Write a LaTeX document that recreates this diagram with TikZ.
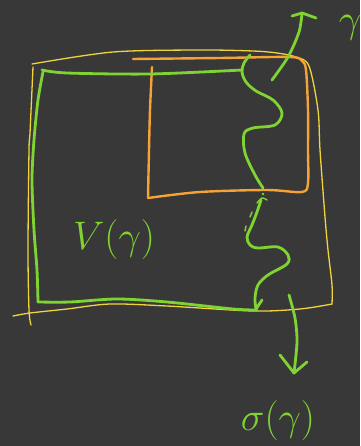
\documentclass[tikz,border=0pt]{standalone}
\begin{document}
\definecolor{board}{RGB}{56,56,56}
\definecolor{cgreen}{RGB}{128,212,50}
\definecolor{corange}{RGB}{245,162,55}
\definecolor{cyellow}{RGB}{240,212,60}
\newcommand{\chalk}[1]{\scalebox{1.6}{\Huge $#1$}}
\begin{tikzpicture}[x=1pt,y=-1pt,line cap=round,line join=round,
  greenline/.style={draw=cgreen,line width=2.8pt},
  thingreen/.style={draw=cgreen,line width=1.4pt},
  orangeline/.style={draw=corange,line width=2.4pt},
  yellowline/.style={draw=cyellow,line width=1.3pt},
  chalktext/.style={text=cgreen,inner sep=0pt}]
\fill[board] (0,0) rectangle (360,446);
\useasboundingbox (0,0) rectangle (360,446);
\clip (0,0) rectangle (360,446);
% yellow outer frame
\draw[yellowline] plot[smooth,tension=0.5] coordinates {(32,64) (113,52) (200,50) (253,51) (277,53) (296,57) (309,66) (318,110) (320,150) (325,217) (328,250) (332,285) (332,304)};
\draw[yellowline] plot[smooth,tension=0.5] coordinates {(332,304) (300,309) (253,311) (167,306) (110,304) (67,309) (30,313) (13,316)};
\draw[yellowline] plot[smooth,tension=0.5] coordinates {(33,67) (30,133) (29,150) (28,250) (29,310) (31,325)};
% orange box
\draw[orangeline] plot[smooth,tension=0.5] coordinates {(133,59) (220,58) (290,57) (302,61) (306,70) (308,110) (308,150) (308,183) (302,192) (267,190) (200,192) (148,198)};
\draw[orangeline] plot[smooth,tension=0.5] coordinates {(152,67) (150,110) (149,150) (148,198)};
% green region
\draw[greenline] plot[smooth,tension=0.5] coordinates {(42,70) (67,73) (150,74) (242,70)};
\draw[greenline] plot[smooth,tension=0.5] coordinates {(43,72) (38,100) (34,140) (32,180) (34,230) (37,270) (38,302)};
\draw[greenline] plot[smooth,tension=0.5] coordinates {(38,302) (70,302) (117,299) (167,302) (233,309) (257,310)};
% wavy boundary, upper part
\draw[greenline] plot[smooth,tension=0.55] coordinates {(250,55) (244,63) (242,72) (246,82) (256,91) (273,100) (282,113) (275,125) (253,128) (244,134) (245,153) (255,175) (263,188)};
\fill[cgreen] (263,194) circle (1.3pt);
% broken part
\draw[thingreen] plot[smooth] coordinates {(257,203) (262,198) (267,200)};
\draw[thingreen] (252,212) -- (250,217);
\draw[thingreen] (246,226) -- (245,231);
% wavy boundary, lower part
\draw[greenline] plot[smooth,tension=0.55] coordinates {(261,200) (257,212) (252,225) (247,237) (250,245) (258,248) (278,247) (288,255) (287,264) (268,275) (258,285) (255,298) (256,309)};
\draw[greenline] (256,309) -- (262,300);
% arrow to gamma
\coordinate (ta) at (272,80);
\coordinate (tb) at (302,13);
\draw[greenline] plot[smooth,tension=0.5] coordinates {(ta) (288,57) (299,32) (tb)};
\draw[greenline] (292,16) -- (tb) -- (316,18);
% arrow to sigma
\coordinate (ba) at (289,295);
\coordinate (bb) at (294,373);
\draw[greenline] plot[smooth,tension=0.5] coordinates {(ba) (295,318) (297,342) (bb)};
\draw[greenline] (280,355) -- (bb) -- (307,362);
% labels
\node[chalktext] (vg) at (114,240) {\chalk{V(\gamma)}};
\node[chalktext] (sg) at (278,421) {\chalk{\sigma(\gamma)}};
\node[chalktext] (g) at (350,28) {\chalk{\gamma}};
\end{tikzpicture}
\end{document}
